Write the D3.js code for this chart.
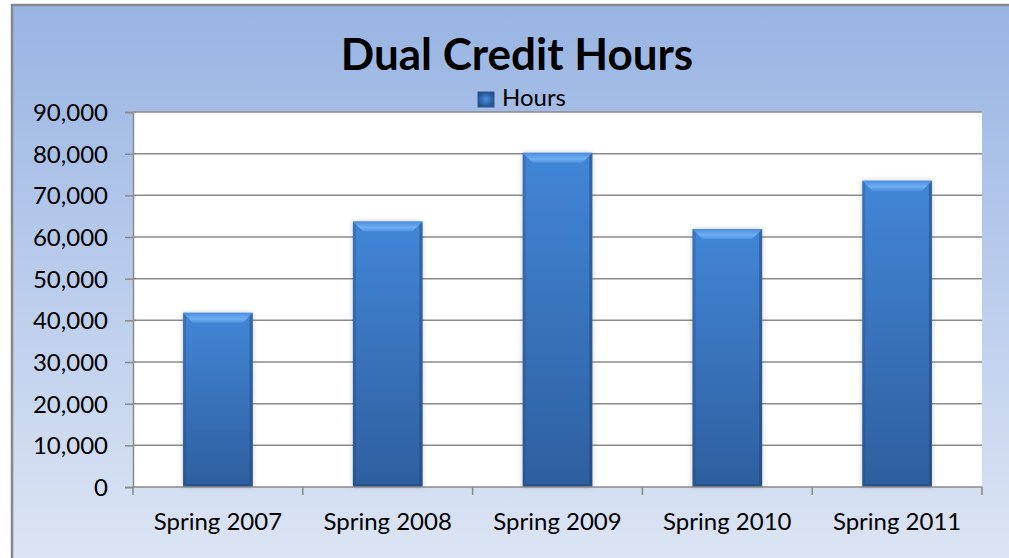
<!DOCTYPE html>
<html>
<head>
<meta charset="utf-8">
<script src="https://cdn.jsdelivr.net/npm/d3@7"></script>
<style>
  html, body { margin: 0; padding: 0; background: #fff; }
  svg { display: block; }
  text { font-family: Lato, "Open Sans", sans-serif; fill: #000; }
</style>
</head>
<body>
<div id="chart"></div>
<script>
// chart data
var categories = ["Spring 2007", "Spring 2008", "Spring 2009", "Spring 2010", "Spring 2011"];
var hours = [41800, 63700, 80200, 61900, 73500];
var yTicks = [0, 10000, 20000, 30000, 40000, 50000, 60000, 70000, 80000, 90000];
var seriesName = "Hours";
var chartTitle = "Dual Credit Hours";

var width = 1009, height = 558;
var plot = {left: 133, right: 982, top: 112, bottom: 487};

var svg = d3.select("#chart").append("svg")
    .attr("width", width)
    .attr("height", height);

var defs = svg.append("defs");

// chart area background
var bg = defs.append("linearGradient").attr("id", "bg")
    .attr("x1", 0).attr("y1", 0).attr("x2", 0).attr("y2", 1);
bg.append("stop").attr("offset", "0%").attr("stop-color", "#98b4e3");
bg.append("stop").attr("offset", "100%").attr("stop-color", "#dfe7f5");

// bar body
var barGrad = defs.append("linearGradient").attr("id", "barGrad")
    .attr("x1", 0).attr("y1", 0).attr("x2", 0).attr("y2", 1);
barGrad.append("stop").attr("offset", "0%").attr("stop-color", "#4286d7");
barGrad.append("stop").attr("offset", "100%").attr("stop-color", "#2e5f9f");

var topGrad = defs.append("linearGradient").attr("id", "topGrad")
    .attr("x1", 0).attr("y1", 0).attr("x2", 0).attr("y2", 1);
topGrad.append("stop").attr("offset", "0%").attr("stop-color", "#4a8ee0");
topGrad.append("stop").attr("offset", "60%").attr("stop-color", "#6eaef2");
topGrad.append("stop").attr("offset", "100%").attr("stop-color", "#4d90df");

var legGrad = defs.append("radialGradient").attr("id", "legGrad");
legGrad.append("stop").attr("offset", "0%").attr("stop-color", "#4a8fe0");
legGrad.append("stop").attr("offset", "100%").attr("stop-color", "#25538f");

var shadow = defs.append("filter").attr("id", "shadow")
    .attr("x", "-20%").attr("y", "-20%").attr("width", "140%").attr("height", "140%");
shadow.append("feDropShadow")
    .attr("dx", 0).attr("dy", 0).attr("stdDeviation", 2.5)
    .attr("flood-color", "#7a7a7a").attr("flood-opacity", 0.45);

// outer frame, runs off the right and bottom of the picture
svg.append("rect")
    .attr("x", 12).attr("y", 5)
    .attr("width", width + 20).attr("height", height + 20)
    .attr("fill", "url(#bg)")
    .attr("stroke", "#878787")
    .attr("stroke-width", 2.5);

// plot area
svg.append("rect")
    .attr("x", plot.left).attr("y", plot.top)
    .attr("width", plot.right - plot.left).attr("height", plot.bottom - plot.top)
    .attr("fill", "#fff");

var y = d3.scaleLinear()
    .domain([0, 90000])
    .range([plot.bottom, plot.top]);

var xCat = d3.scaleBand()
    .domain(categories)
    .range([plot.left, plot.right]);

var x = d3.scaleBand()
    .domain(categories)
    .range([plot.left, plot.right])
    .paddingInner(0.59)
    .paddingOuter(0.295);

// gridlines
svg.append("g")
    .selectAll("line")
    .data(yTicks.filter(function(d) { return d > 0; }))
    .enter().append("line")
    .attr("x1", plot.left).attr("x2", plot.right)
    .attr("y1", function(d) { return y(d); })
    .attr("y2", function(d) { return y(d); })
    .attr("stroke", "#8a8a8a")
    .attr("stroke-width", 1.5);

// y axis
var yAxis = svg.append("g")
    .attr("transform", "translate(" + plot.left + ",0)")
    .call(d3.axisLeft(y).tickValues(yTicks).tickSize(8).tickPadding(17)
        .tickFormat(d3.format(",")));
yAxis.select(".domain").attr("stroke", "#8a8a8a").attr("stroke-width", 1.5);
yAxis.selectAll(".tick line").attr("stroke", "#8a8a8a").attr("stroke-width", 1.5);
yAxis.selectAll("text")
    .attr("font-family", "Lato, 'Open Sans', sans-serif")
    .attr("font-size", 24)
    .attr("fill", "#000")
    .attr("dy", "0.36em");

// bars
var bevel = 10, side = 3;
var bars = svg.append("g").selectAll("g.bar")
    .data(hours)
    .enter().append("g")
    .attr("class", "bar");

function corners(d, i) {
    var x0 = x(categories[i]);
    return {x0: x0, x1: x0 + x.bandwidth(), t: y(d), b: y(0)};
}

bars.append("rect")
    .attr("x", function(d, i) { return x(categories[i]); })
    .attr("y", function(d) { return y(d); })
    .attr("width", x.bandwidth())
    .attr("height", function(d) { return y(0) - y(d); })
    .attr("fill", "url(#barGrad)")
    .attr("filter", "url(#shadow)");

// darker side and bottom edges
bars.append("path")
    .attr("d", function(d, i) {
        var c = corners(d, i);
        return "M" + c.x1 + "," + c.t + "L" + c.x1 + "," + c.b + "L" + (c.x1 - side) + "," + (c.b - side) +
            "L" + (c.x1 - side) + "," + (c.t + side) + "Z";
    })
    .attr("fill", "#1c3d6e").attr("opacity", 0.45);
bars.append("path")
    .attr("d", function(d, i) {
        var c = corners(d, i);
        return "M" + c.x0 + "," + c.t + "L" + c.x0 + "," + c.b + "L" + (c.x0 + side) + "," + (c.b - side) +
            "L" + (c.x0 + side) + "," + (c.t + side) + "Z";
    })
    .attr("fill", "#1c3d6e").attr("opacity", 0.25);
bars.append("path")
    .attr("d", function(d, i) {
        var c = corners(d, i);
        return "M" + c.x0 + "," + c.b + "L" + c.x1 + "," + c.b + "L" + (c.x1 - side) + "," + (c.b - side) +
            "L" + (c.x0 + side) + "," + (c.b - side) + "Z";
    })
    .attr("fill", "#1c3d6e").attr("opacity", 0.4);

// top bevel
bars.append("path")
    .attr("d", function(d, i) {
        var c = corners(d, i);
        return "M" + c.x0 + "," + c.t + "L" + c.x1 + "," + c.t +
            "L" + (c.x1 - bevel) + "," + (c.t + bevel) + "L" + (c.x0 + bevel) + "," + (c.t + bevel) + "Z";
    })
    .attr("fill", "url(#topGrad)");

// x axis
var xAxis = svg.append("g")
    .attr("transform", "translate(0," + plot.bottom + ")");
xAxis.append("line")
    .attr("x1", plot.left).attr("x2", plot.right)
    .attr("stroke", "#8a8a8a").attr("stroke-width", 1.5);
xAxis.selectAll("line.tick")
    .data(categories.concat([null]))
    .enter().append("line")
    .attr("class", "tick")
    .attr("x1", function(d) { return d === null ? plot.right : xCat(d); })
    .attr("x2", function(d) { return d === null ? plot.right : xCat(d); })
    .attr("y1", 0).attr("y2", 8)
    .attr("stroke", "#8a8a8a").attr("stroke-width", 1.5);
xAxis.selectAll("text")
    .data(categories)
    .enter().append("text")
    .attr("x", function(d) { return xCat(d) + xCat.bandwidth() / 2; })
    .attr("y", 43)
    .attr("text-anchor", "middle")
    .attr("font-size", 24)
    .text(function(d) { return d; });

// title
svg.append("text")
    .attr("x", 517)
    .attr("y", 70)
    .attr("text-anchor", "middle")
    .attr("font-size", 44)
    .attr("font-weight", "bold")
    .text(chartTitle);

// legend
var legend = svg.append("g");
legend.append("rect")
    .attr("x", 478).attr("y", 92)
    .attr("width", 16).attr("height", 15)
    .attr("fill", "url(#legGrad)")
    .attr("stroke", "#2a5690").attr("stroke-width", 1);
legend.append("text")
    .attr("x", 502).attr("y", 106)
    .attr("font-size", 24)
    .text(seriesName);
</script>
</body>
</html>
